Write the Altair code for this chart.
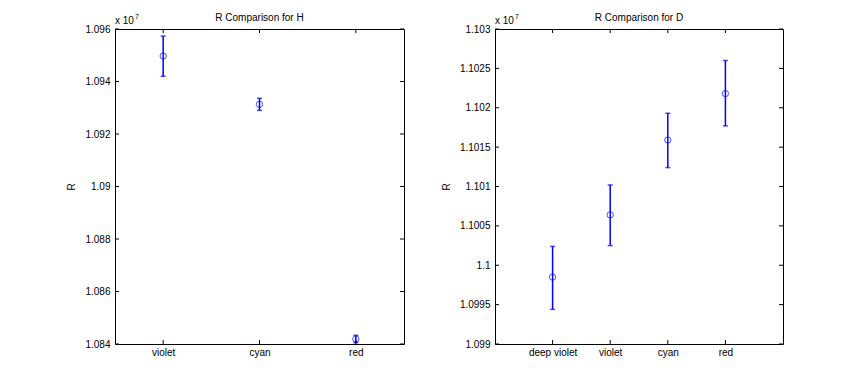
import altair as alt
import pandas as pd

# ---- data (values in units of 1e7) ----
h_cats = ["violet", "cyan", "red"]
h_vals = [1.09497, 1.09313, 1.08419]
h_lo = [1.09420, 1.09290, 1.08405]
h_hi = [1.09573, 1.09336, 1.08433]
h_ticks = [1.084, 1.086, 1.088, 1.090, 1.092, 1.094, 1.096]

d_cats = ["deep violet", "violet", "cyan", "red"]
d_vals = [1.09985, 1.10064, 1.10159, 1.10218]
d_lo = [1.09944, 1.10025, 1.10124, 1.10177]
d_hi = [1.10024, 1.10102, 1.10193, 1.10260]
d_ticks = [1.099, 1.0995, 1.100, 1.1005, 1.101, 1.1015, 1.102, 1.1025, 1.103]

FONT = "Liberation Sans"
BLUE = "#0000ff"
H = 315
TL = 4  # tick length


def panel(cats, vals, lo, hi, ticks, title, pad, width):
    df = pd.DataFrame({"cat": cats, "R": vals, "lo": lo, "hi": hi})
    tdf = pd.DataFrame({"v": ticks})
    cdf = pd.DataFrame({"cat": cats})
    ydom = [ticks[0], ticks[-1]]
    xs = alt.Scale(type="point", domain=cats, padding=pad)
    ys = alt.Scale(domain=ydom, nice=False, zero=False)

    xaxis = alt.Axis(ticks=False, domain=False, labelAngle=0, labelPadding=3,
                     labelOverlap=False, labelBound=False,
                     labelFont=FONT, labelFontSize=10, labelColor="black", grid=False)
    yaxis = alt.Axis(values=ticks, ticks=False, domain=False, labelPadding=5,
                     labelOverlap=False, labelBound=False,
                     labelExpr="format(datum.value, '.4~f')",
                     labelFont=FONT, labelFontSize=10, labelColor="black",
                     titleFont=FONT, titleFontSize=10, titleFontWeight="normal",
                     titleColor="black", titlePadding=8, grid=False)

    def X():
        return alt.X("cat:N", scale=xs, sort=cats, title="", axis=xaxis)

    def Y(f):
        return alt.Y(f, scale=ys, title="R", axis=yaxis)

    base = alt.Chart(df)
    points = base.mark_point(shape="circle", filled=False, color=BLUE, size=40,
                             strokeWidth=1).encode(x=X(), y=Y("R:Q"))
    bars = base.mark_rule(color=BLUE, strokeWidth=1.5).encode(x=X(), y=Y("lo:Q"), y2="hi:Q")
    cap_lo = base.mark_tick(color=BLUE, size=5, thickness=1.5, orient="horizontal").encode(
        x=X(), y=Y("lo:Q"))
    cap_hi = base.mark_tick(color=BLUE, size=5, thickness=1.5, orient="horizontal").encode(
        x=X(), y=Y("hi:Q"))

    tk = alt.Chart(tdf).mark_rule(color="black", strokeWidth=1)
    yl = tk.encode(y=Y("v:Q"), x=alt.value(0), x2=alt.value(TL))
    yr = tk.encode(y=Y("v:Q"), x=alt.value(width - TL), x2=alt.value(width))
    ck = alt.Chart(cdf).mark_rule(color="black", strokeWidth=1)
    xb = ck.encode(x=X(), y=alt.value(H - TL), y2=alt.value(H))
    xt = ck.encode(x=X(), y=alt.value(0), y2=alt.value(TL))

    ex1 = alt.Chart(pd.DataFrame({"t": ["x 10"]})).mark_text(
        align="left", baseline="alphabetic", font=FONT, fontSize=10, color="black").encode(
        text="t:N", x=alt.value(0), y=alt.value(-5))
    ex2 = alt.Chart(pd.DataFrame({"t": ["7"]})).mark_text(
        align="left", baseline="alphabetic", font=FONT, fontSize=7, color="black").encode(
        text="t:N", x=alt.value(20), y=alt.value(-10))
    ttl = alt.Chart(pd.DataFrame({"t": [title]})).mark_text(
        align="center", baseline="alphabetic", font=FONT, fontSize=10, color="black").encode(
        text="t:N", x=alt.value(width / 2), y=alt.value(-8))

    return alt.layer(points, bars, cap_lo, cap_hi, yl, yr, xb, xt, ex1, ex2, ttl).properties(
        width=width, height=H)


left = panel(h_cats, h_vals, h_lo, h_hi, h_ticks, "R Comparison for H", 0.5, 289)
right = panel(d_cats, d_vals, d_lo, d_hi, d_ticks, "R Comparison for D", 1.0, 288)

chart = alt.hconcat(left, right, spacing=91, bounds="flush").properties(
    padding={"left": 58, "top": 4, "right": 5, "bottom": 5},
    background="white",
).configure_view(stroke="black", strokeWidth=1)

chart.save("out.html", embed_options={"renderer": "svg", "actions": False})
